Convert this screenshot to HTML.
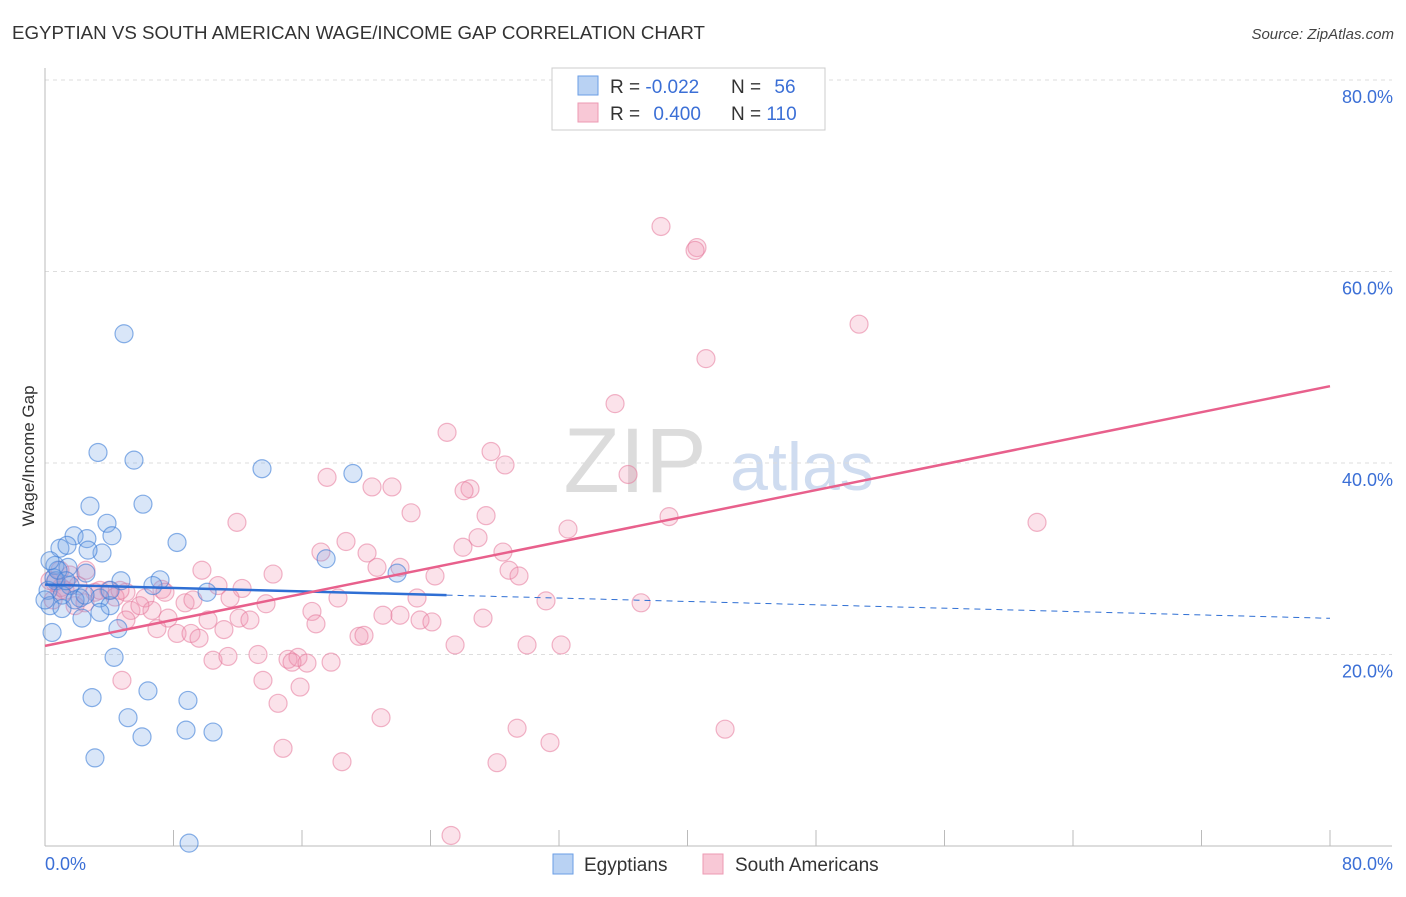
<!DOCTYPE html>
<html><head><meta charset="utf-8"><style>
body{margin:0;background:#fff;font-family:"Liberation Sans",sans-serif;}
svg text{font-family:"Liberation Sans",sans-serif;}
</style></head><body>
<svg id="chart" width="1406" height="892" xmlns="http://www.w3.org/2000/svg">
<text x="12" y="39" font-size="18" fill="#333" textLength="693" lengthAdjust="spacingAndGlyphs">EGYPTIAN VS SOUTH AMERICAN WAGE/INCOME GAP CORRELATION CHART</text>
<text x="1394" y="39" font-size="15" fill="#444" text-anchor="end" font-style="italic">Source: ZipAtlas.com</text>
<g>
<text x="635" y="492" font-size="92" fill="#dcdcdc" font-family="Liberation Serif" text-anchor="middle">ZIP</text>
<text x="802" y="490" font-size="68" fill="#cfdcf0" text-anchor="middle">atlas</text>
</g>
<g id="grid"></g>
<g id="axes"></g>
<g id="points"></g>
<g id="trends"></g>
<text transform="translate(34,456) rotate(-90)" font-size="17" fill="#333" text-anchor="middle">Wage/Income Gap</text>
<g>
<rect x="552" y="68" width="273" height="62" fill="#fff" stroke="#ccc"/>
<rect x="578" y="76" width="20" height="19" fill="#b9d2f3" stroke="#6a9ee6"/>
<rect x="578" y="103" width="20" height="19" fill="#f8c8d6" stroke="#ec9ab3"/>
<text x="610" y="93" font-size="19" fill="#333">R = <tspan fill="#3b6fd6">-0.022</tspan></text>
<text x="731" y="93" font-size="19" fill="#333">N = <tspan fill="#3b6fd6" dx="8">56</tspan></text>
<text x="610" y="120" font-size="19" fill="#333">R = <tspan fill="#3b6fd6" dx="8">0.400</tspan></text>
<text x="731" y="120" font-size="19" fill="#333">N = <tspan fill="#3b6fd6">110</tspan></text>
</g>
<g>
<rect x="553" y="854" width="20" height="20" fill="#b9d2f3" stroke="#6a9ee6"/>
<text x="584" y="871" font-size="19" fill="#333">Egyptians</text>
<rect x="703" y="854" width="20" height="20" fill="#f8c8d6" stroke="#ec9ab3"/>
<text x="735" y="871" font-size="19" fill="#333">South Americans</text>
</g>
</svg>
<script>
const yTicks=[20,40,60,80];
const yTickLabels=["20.0%","40.0%","60.0%","80.0%"];
const xTicks=[0,8,16,24,32,40,48,56,64,72,80];
const blueX=[4.92,3.30,5.54,13.51,19.17,2.80,6.10,3.86,4.17,1.81,2.61,8.22,0.93,1.37,3.55,2.68,0.62,1.43,0.68,1.56,2.55,4.73,7.16,6.72,10.09,17.50,21.92,0.19,1.06,2.18,3.42,4.05,0.31,1.06,2.30,3.42,0.44,4.54,4.30,2.93,6.41,8.90,5.17,8.78,10.46,6.04,3.11,8.97,0.56,0,0.81,1.87,1.31,0.31,2.49,4.05];
const blueY=[53.5,41.1,40.3,39.4,38.9,35.5,35.7,33.7,32.4,32.4,32.1,31.7,31.1,31.4,30.6,30.9,29.3,29.1,27.7,27.2,28.5,27.7,27.8,27.2,26.5,30.0,28.5,26.7,26.2,25.9,25.9,25.1,25.1,24.8,23.8,24.4,22.3,22.7,19.7,15.5,16.2,15.2,13.4,12.1,11.9,11.4,9.2,0.3,28.0,25.7,28.8,25.7,27.7,29.8,26.2,26.7];
const pinkX=[38.35,40.59,40.47,50.68,41.15,35.49,25.03,27.77,28.64,36.30,17.56,21.60,20.36,26.46,26.09,22.79,27.46,11.95,38.85,61.76,32.56,26.96,18.74,26.02,17.18,28.51,20.05,22.10,9.77,28.89,14.20,29.51,24.28,20.67,10.77,12.27,7.28,2.55,2.05,0.62,0.93,3.11,5.04,3.98,6.23,8.72,9.21,11.52,13.76,18.24,23.16,31.19,37.11,6.66,5.35,5.04,7.66,10.15,12.08,12.76,16.62,16.87,21.04,22.10,23.35,24.09,27.27,6.97,8.22,9.09,9.59,11.14,19.55,19.86,25.53,30.01,32.13,10.46,11.39,13.26,15.13,15.75,15.38,16.31,17.81,4.79,13.57,15.88,14.51,20.92,29.39,42.34,31.44,14.82,18.49,28.14,25.28,1.56,0.31,1.25,3.42,4.36,1.87,5.91,2.49,0.50,0.93,4.67,7.47,1.0];
const pinkY=[64.7,62.5,62.2,54.5,50.9,46.2,43.2,41.2,39.8,38.8,38.5,37.5,37.5,37.3,37.1,34.8,34.5,33.8,34.4,33.8,33.1,32.2,31.8,31.2,30.7,30.7,30.6,29.1,28.8,28.8,28.4,28.2,28.2,29.1,27.2,26.9,26.8,28.8,27.2,27.5,26.7,26.5,26.5,26.7,25.9,25.4,25.7,25.9,25.3,25.9,25.9,25.6,25.4,24.6,24.6,23.6,23.8,23.6,23.8,23.6,24.5,23.2,24.1,24.1,23.6,23.4,23.8,22.7,22.2,22.2,21.7,22.6,21.9,22.0,21.0,21.0,21.0,19.4,19.8,20.0,19.5,19.7,19.2,19.1,19.2,17.3,17.3,16.6,14.9,13.4,12.3,12.2,10.8,10.2,8.8,8.7,1.1,28.3,27.7,26.7,26.7,26.0,25.1,25.1,25.4,25.7,28.8,26.7,26.5,27.0];
const blueTrend=[27.3,-0.044]; // intercept, slope
const blueSolidEnd=25;
const pinkTrend=[20.9,0.339];

const NS="http://www.w3.org/2000/svg";
const X0=45,X1=1330,Y0=846,Y80=80;
const sx=v=>X0+(v/80)*(X1-X0);
const sy=v=>Y0-(v/80)*(Y0-Y80);
function mk(tag,attrs,parent){const e=document.createElementNS(NS,tag);for(const k in attrs)e.setAttribute(k,attrs[k]);parent.appendChild(e);return e;}
const grid=document.getElementById('grid'),axes=document.getElementById('axes');
yTicks.forEach((t,i)=>{
  const l=mk('line',{x1:X0,x2:1392,y1:sy(t),y2:sy(t),stroke:'#ddd','stroke-dasharray':'4,4'},grid);
  
  
  const tx=mk('text',{x:1393,y:sy(t)+23,'font-size':18,fill:'#3b6fd6','text-anchor':'end'},axes);
  tx.textContent=yTickLabels[i];
  
  
});
const ya=mk('line',{x1:X0,x2:X0,y1:68,y2:Y0,stroke:'#bbb'},axes);


const xa=mk('line',{x1:X0,x2:1392,y1:Y0,y2:Y0,stroke:'#bbb'},axes);


xTicks.forEach(t=>{
  const l=mk('line',{x1:sx(t),x2:sx(t),y1:830,y2:Y0,stroke:'#bbb'},axes);
  
  
});
const xl0=mk('text',{x:45,y:870,'font-size':18,fill:'#3b6fd6'},axes);xl0.textContent='0.0%';


const xl1=mk('text',{x:1393,y:870,'font-size':18,fill:'#3b6fd6','text-anchor':'end'},axes);xl1.textContent='80.0%';


const pts=document.getElementById('points');
pinkX.forEach((x,i)=>{
  const c=mk('circle',{cx:sx(x),cy:sy(pinkY[i]),r:9,fill:'rgba(240,150,180,0.28)',stroke:'rgba(230,120,155,0.55)','stroke-width':1.2},pts);
  
  
});
blueX.forEach((x,i)=>{
  const c=mk('circle',{cx:sx(x),cy:sy(blueY[i]),r:9,fill:'rgba(120,165,230,0.28)',stroke:'rgba(60,125,215,0.6)','stroke-width':1.2},pts);
  
  
});
const tr=document.getElementById('trends');
const f=(p,x)=>p[0]+p[1]*x;
const b1=mk('line',{x1:sx(0),y1:sy(f(blueTrend,0)),x2:sx(blueSolidEnd),y2:sy(f(blueTrend,blueSolidEnd)),stroke:'#2f6fd4','stroke-width':2.5},tr);


const b2=mk('line',{x1:sx(blueSolidEnd),y1:sy(f(blueTrend,blueSolidEnd)),x2:sx(80),y2:sy(f(blueTrend,80)),stroke:'#2f6fd4','stroke-width':1,'stroke-dasharray':'6,5'},tr);


const p1=mk('line',{x1:sx(0),y1:sy(f(pinkTrend,0)),x2:sx(80),y2:sy(f(pinkTrend,80)),stroke:'#e8608c','stroke-width':2.5},tr);


</script>
</body></html>
